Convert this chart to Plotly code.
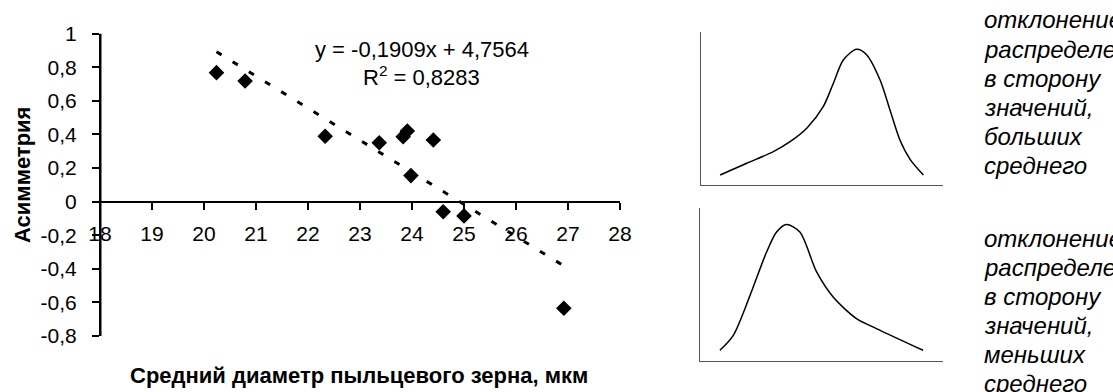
import plotly.graph_objects as go

# Pollen grain data: mean diameter (µm) vs. asymmetry (skewness)
diameter = [20.24, 20.79, 22.33, 23.37, 23.83, 23.91, 24.41, 23.98, 24.60, 25.00, 26.92]
asymmetry = [0.768, 0.718, 0.389, 0.351, 0.387, 0.421, 0.367, 0.155, -0.060, -0.085, -0.635]

# Linear trend reported on the chart
TREND_SLOPE = -0.1909
TREND_INTERCEPT = 4.7564
R_SQUARED = 0.8283

# Axis ticks
x_ticks = [18, 19, 20, 21, 22, 23, 24, 25, 26, 27, 28]
y_ticks = [-0.8, -0.6, -0.4, -0.2, 0, 0.2, 0.4, 0.6, 0.8, 1]
y_tick_labels = ["-0,8", "-0,6", "-0,4", "-0,2", "0", "0,2", "0,4", "0,6", "0,8", "1"]

# Schematic distribution curves (arbitrary units, 0..10 frame)
pos_skew_x = [0.79, 1.89, 2.99, 3.68, 4.37, 5.05, 5.47, 5.88, 6.43, 6.85, 7.40, 7.81, 8.22, 8.64, 9.19]
pos_skew_y = [0.65, 1.42, 2.18, 2.83, 3.71, 5.12, 6.65, 8.17, 8.87, 8.50, 6.86, 4.90, 2.94, 1.68, 0.65]
neg_skew_x = [0.82, 1.37, 2.06, 2.74, 3.15, 3.56, 4.11, 4.80, 5.48, 6.44, 7.26, 9.18]
neg_skew_y = [0.70, 1.68, 4.29, 7.12, 8.43, 8.92, 8.43, 5.82, 4.18, 2.77, 2.12, 0.70]

caption_top = ["отклонение", "распределения", "в сторону", "значений,", "больших", "среднего"]
caption_bottom = ["отклонение", "распределения", "в сторону", "значений,", "меньших", "среднего"]

W, H = 1113, 392
FONT = "Liberation Sans, Arial, sans-serif"


def px_x(p):
    return p / W


def px_y(p):
    return (H - p) / H


def fmt(v, nd):
    return f"{v:.{nd}f}".replace(".", ",")


fig = go.Figure()

# Scatter points
fig.add_trace(go.Scatter(
    x=diameter, y=asymmetry, mode="markers",
    marker=dict(symbol="diamond", size=12, color="black"),
    xaxis="x", yaxis="y", showlegend=False, hoverinfo="skip",
))

# Trend line across the data range
x0, x1 = min(diameter), max(diameter)
fig.add_trace(go.Scatter(
    x=[x0, x1],
    y=[TREND_SLOPE * x0 + TREND_INTERCEPT, TREND_SLOPE * x1 + TREND_INTERCEPT],
    mode="lines", line=dict(color="black", width=3, dash="6px,13px"),
    xaxis="x", yaxis="y", showlegend=False, hoverinfo="skip",
))

# Schematic curves
fig.add_trace(go.Scatter(
    x=pos_skew_x, y=pos_skew_y, mode="lines",
    line=dict(color="black", width=1.5, shape="spline", smoothing=0.8),
    xaxis="x2", yaxis="y2", showlegend=False, hoverinfo="skip",
))
fig.add_trace(go.Scatter(
    x=neg_skew_x, y=neg_skew_y, mode="lines",
    line=dict(color="black", width=1.5, shape="spline", smoothing=0.8),
    xaxis="x3", yaxis="y3", showlegend=False, hoverinfo="skip",
))

x_dom = [px_x(100), px_x(620)]
y_dom = [px_y(336), px_y(33.7)]
y_min, y_max = -0.8, 1.0
x_axis_pos = y_dom[0] + (y_dom[1] - y_dom[0]) * (0 - y_min) / (y_max - y_min)

tick_font = dict(family=FONT, size=21, color="black")

frame_axis = dict(
    range=[0, 10], showline=True, linecolor="#555", linewidth=1,
    showgrid=False, zeroline=False, showticklabels=False, ticks="",
    automargin=False,
)

fig.update_layout(
    width=W, height=H,
    margin=dict(l=0, r=0, t=0, b=0, pad=0),
    paper_bgcolor="white", plot_bgcolor="white",
    font=dict(family=FONT, color="black"),
    xaxis=dict(
        domain=x_dom, range=[18, 28],
        anchor="free", position=x_axis_pos,
        tickvals=x_ticks, ticktext=[str(t) for t in x_ticks],
        ticks="outside", ticklen=7, tickwidth=1.5, tickcolor="black",
        showline=True, linecolor="black", linewidth=2,
        showgrid=False, zeroline=False, tickfont=tick_font,
        ticklabelstandoff=6, automargin=False,
    ),
    yaxis=dict(
        domain=y_dom, range=[y_min, y_max],
        anchor="free", position=x_dom[0],
        tickvals=y_ticks, ticktext=y_tick_labels,
        ticks="outside", ticklen=7, tickwidth=1.5, tickcolor="black",
        showline=True, linecolor="black", linewidth=2,
        showgrid=False, zeroline=False, tickfont=tick_font,
        ticklabelstandoff=11, automargin=False,
    ),
    xaxis2=dict(domain=[px_x(701), px_x(943)], anchor="y2", **frame_axis),
    yaxis2=dict(domain=[px_y(185), px_y(32)], anchor="x2", **frame_axis),
    xaxis3=dict(domain=[px_x(700), px_x(943)], anchor="y3", **frame_axis),
    yaxis3=dict(domain=[px_y(361), px_y(208)], anchor="x3", **frame_axis),
)

# Vertical axis line along the left edge of the main plot area
fig.add_shape(
    type="line", xref="paper", yref="paper",
    x0=px_x(100.5), x1=px_x(100.5), y0=y_dom[0], y1=y_dom[1],
    line=dict(color="black", width=2), layer="above",
)

annotations = [
    # Axis titles
    dict(text="<b>Средний диаметр пыльцевого зерна, мкм</b>",
         x=px_x(359), y=px_y(375), xref="paper", yref="paper",
         xanchor="center", yanchor="middle", showarrow=False,
         font=dict(family=FONT, size=22, color="black")),
    dict(text="<b>Асимметрия</b>", textangle=-90,
         x=px_x(22), y=px_y(175), xref="paper", yref="paper",
         xanchor="center", yanchor="middle", showarrow=False,
         font=dict(family=FONT, size=22, color="black")),
    # Trend equation
    dict(text=f"y = {fmt(TREND_SLOPE, 4)}x + {fmt(TREND_INTERCEPT, 4)}",
         x=px_x(422), y=px_y(50), xref="paper", yref="paper",
         xanchor="center", yanchor="middle", showarrow=False,
         font=dict(family=FONT, size=22, color="black")),
    dict(text=f"R<sup>2</sup> = {fmt(R_SQUARED, 4)}",
         x=px_x(421.5), y=px_y(76), xref="paper", yref="paper",
         xanchor="center", yanchor="middle", showarrow=False,
         font=dict(family=FONT, size=22, color="black")),
]

# Captions for the schematic curves, one line each
LINE_STEP = 29
for lines, first_center in ((caption_top, 20), (caption_bottom, 238)):
    for i, word in enumerate(lines):
        annotations.append(dict(
            text=f"<i>{word}</i>",
            x=px_x(982), y=px_y(first_center + i * LINE_STEP),
            xref="paper", yref="paper",
            xanchor="left", yanchor="middle", align="left", showarrow=False,
            font=dict(family=FONT, size=24, color="black"),
        ))

fig.update_layout(annotations=annotations)

fig.write_html("out.html")
